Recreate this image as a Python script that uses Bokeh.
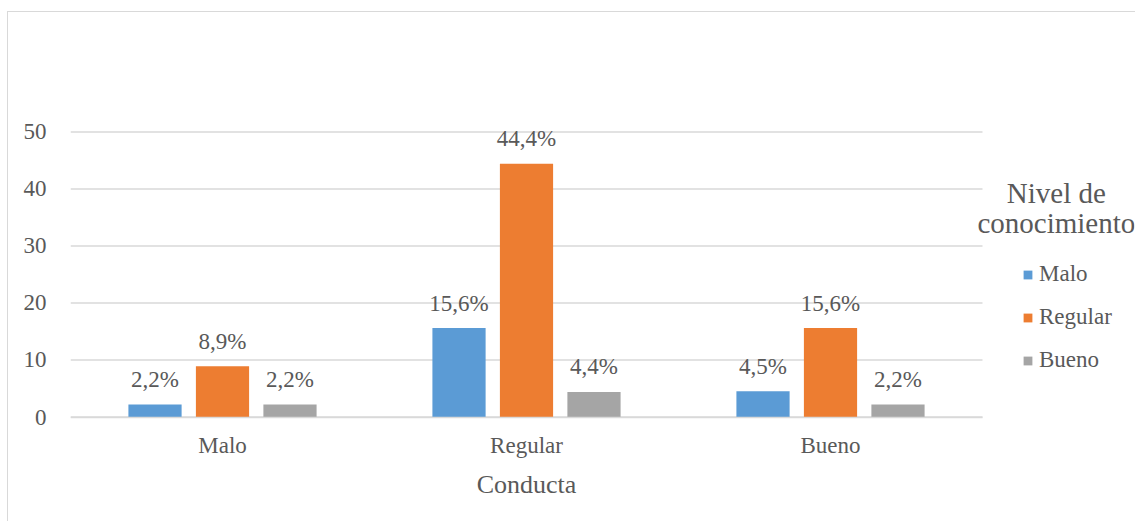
from bokeh.plotting import figure
from bokeh.models import (ColumnDataSource, Range1d, FixedTicker, LinearAxis,
                          Legend, LegendItem, Label)
from bokeh.transform import dodge
from bokeh.core.properties import value
from bokeh.embed import file_html
from bokeh.resources import INLINE

# Conducta categories and the share (%) per Nivel de conocimiento
categories = ["Malo", "Regular", "Bueno"]
malo = [2.2, 15.6, 4.5]
regular = [8.9, 44.4, 15.6]
bueno = [2.2, 4.4, 2.2]
series_names = ["Malo", "Regular", "Bueno"]
y_ticks = [0, 10, 20, 30, 40, 50]
x_title = "Conducta"
legend_title = ["Nivel de", "conocimiento"]

colors = ["#5B9BD5", "#ED7D31", "#A5A5A5"]
text_color = "#595959"
font = "Liberation Serif"
grid_color = "#D9D9D9"


def pct(v):
    return f"{v:.1f}".replace(".", ",") + "%"


n = len(categories)
# each category occupies one unit on the x scale, centred at i + 0.5
centers = [i + 0.5 for i in range(n)]

source = ColumnDataSource(dict(
    x=centers,
    malo=malo, regular=regular, bueno=bueno,
    malo_lbl=[pct(v) for v in malo],
    regular_lbl=[pct(v) for v in regular],
    bueno_lbl=[pct(v) for v in bueno],
))

# the frame continues right of and below the bar area so that the legend,
# the category labels and the axis title all have room inside it
p = figure(
    width=1128, height=510,
    x_range=Range1d(0, n + 0.5),
    y_range=Range1d(-18.5, 52),
    x_axis_location=None,
    output_backend="svg", toolbar_location=None,
    min_border_left=62, min_border_right=2,
    min_border_top=108, min_border_bottom=0,
)
p.styles = {
    "margin-left": "7px", "margin-top": "11px",
    "border-left": f"1px solid {grid_color}",
    "border-top": f"1px solid {grid_color}",
}
p.outline_line_color = None
p.background_fill_color = "white"
p.border_fill_color = "white"
p.xgrid.grid_line_color = None
p.ygrid.grid_line_color = None

# horizontal gridlines spanning the category area only
p.segment(x0=0, x1=n, y0=y_ticks, y1=y_ticks, line_color=grid_color,
          line_width=1.5, level="underlay")

offsets = [-0.222, 0.0, 0.222]
bar_w = 0.175
fields = ["malo", "regular", "bueno"]
renderers = []
for field, off, col in zip(fields, offsets, colors):
    r = p.vbar(x=dodge("x", off), top=field, width=bar_w, bottom=0,
               source=source, fill_color=col, line_color=None)
    renderers.append(r)
    p.text(x=dodge("x", off), y=field, text=field + "_lbl",
           source=source, text_align="center", text_baseline="alphabetic",
           y_offset=-25, text_font=value(font), text_font_size="23px",
           text_color=text_color)

# value axis
p.yaxis.ticker = FixedTicker(ticks=y_ticks)
p.yaxis.axis_line_color = None
p.yaxis.major_tick_line_color = None
p.yaxis.minor_tick_line_color = None
p.yaxis.major_label_standoff = 18
p.yaxis.major_label_text_font = font
p.yaxis.major_label_text_font_size = "23px"
p.yaxis.major_label_text_color = text_color

# category axis sitting on the zero line
xaxis = LinearAxis(
    fixed_location=0,
    ticker=FixedTicker(ticks=centers),
    major_label_overrides={c: lab for c, lab in zip(centers, categories)},
    bounds=(0, n),
    axis_line_color=grid_color, axis_line_width=1.5,
    major_tick_line_color=None, minor_tick_line_color=None,
    major_tick_out=0, major_tick_in=0, major_label_standoff=16,
    major_label_text_font=font, major_label_text_font_size="23px",
    major_label_text_color=text_color,
)
p.add_layout(xaxis, "below")

p.add_layout(Label(x=n / 2, y=-11.8, text=x_title, text_align="center",
                   text_baseline="middle", text_font=font,
                   text_font_size="26px", text_color=text_color))

# legend
legend = Legend(
    items=[LegendItem(label=s, renderers=[r]) for s, r in zip(series_names, renderers)],
    location=(952, 43 + 18.5 * 5.7),
    orientation="vertical",
    padding=0, margin=0, spacing=16,
    glyph_width=11, glyph_height=11, label_standoff=6, label_height=27,
    label_text_font=font, label_text_font_size="23px", label_text_color=text_color,
    border_line_color=None, background_fill_alpha=0,
)
p.add_layout(legend, "center")

for txt, yv in zip(legend_title, [39.3, 34.0]):
    p.add_layout(Label(x=3.243, y=yv, text=txt, text_align="center",
                       text_baseline="middle", text_font=font,
                       text_font_size="29px", text_color=text_color))

open("out.html", "w").write(file_html(p, INLINE))
